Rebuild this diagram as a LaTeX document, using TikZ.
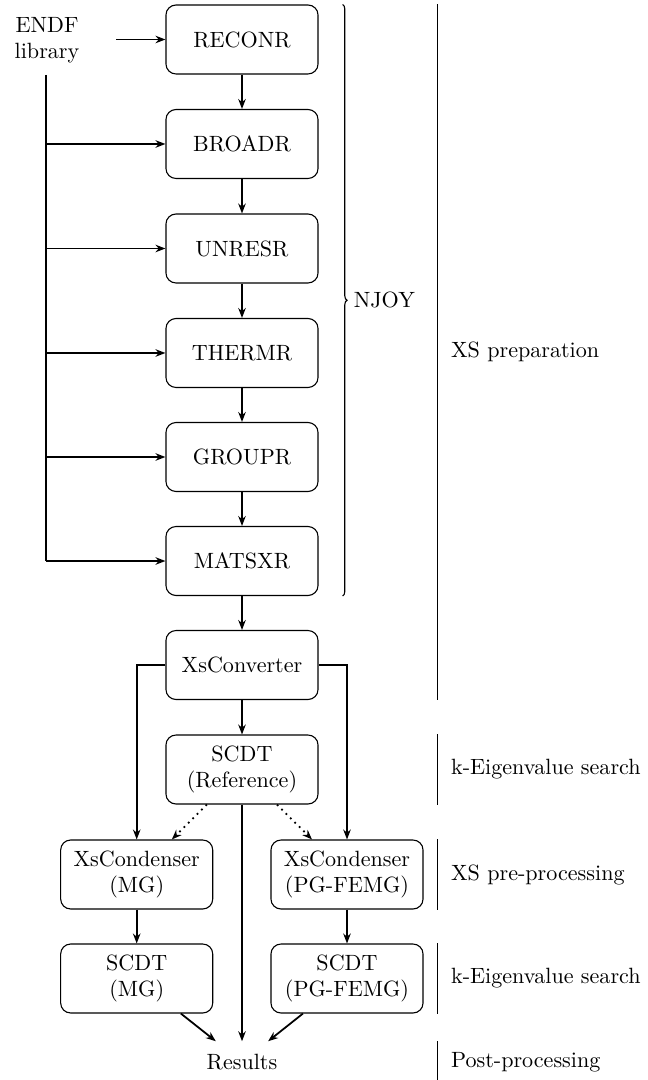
\documentclass[tikz,border=0pt]{standalone}
\usetikzlibrary{arrows.meta,decorations.pathreplacing,calc}
\begin{document}
\begin{tikzpicture}[x=0.4525pt,y=-0.4525pt,
  box/.style={draw, rounded corners=4.5pt, minimum width=68.8pt, minimum height=31.2pt, align=center, line width=0.5pt},
  arr/.style={-{Stealth[length=4.5pt,width=3.4pt]}, line width=0.8pt},
  dotarr/.style={arr, dotted},
  bus/.style={line width=1.2pt},
  sepline/.style={line width=0.5pt},
  lab/.style={anchor=west}]
\useasboundingbox (0,0) rectangle (648,1080);

% main column
\node[box] (reconr) at (242,39.5) {RECONR};
\node[box] (broadr) at (242,144) {BROADR};
\node[box] (unresr) at (242,248.5) {UNRESR};
\node[box] (thermr) at (242,353) {THERMR};
\node[box] (groupr) at (242,457) {GROUPR};
\node[box] (matsxr) at (242,561) {MATSXR};
\node[box] (conv) at (242,665) {XsConverter};
\node[box] (ref) at (242,769.5) {SCDT\\(Reference)};
\node[box] (condmg) at (136.7,874.5) {XsCondenser\\(MG)};
\node[box] (condpg) at (347,874.5) {XsCondenser\\(PG-FEMG)};
\node[box] (scdtmg) at (136.7,978.5) {SCDT\\(MG)};
\node[box] (scdtpg) at (347,978.5) {SCDT\\(PG-FEMG)};
\node[minimum height=18.4pt] (results) at (242,1062) {Results};

% ENDF input
\node[align=center] (endf) at (47,40) {ENDF\\library};
\coordinate (endfout) at (116,39.5);
\draw[arr] (endfout) -- (reconr);
\coordinate (bustop) at (46,75);
\draw[bus] (bustop) -- (bustop |- matsxr);
\foreach \n in {broadr,unresr,thermr,groupr,matsxr}
  \draw[arr] (bustop |- \n) -- (\n);

% chain
\foreach \a/\b in {reconr/broadr,broadr/unresr,unresr/thermr,thermr/groupr,groupr/matsxr,matsxr/conv,conv/ref}
  \draw[arr] (\a) -- (\b);
\draw[arr] (conv) -| (condmg);
\draw[arr] (conv) -| (condpg);
\draw[dotarr] (ref) -- (condmg);
\draw[dotarr] (ref) -- (condpg);
\draw[arr] (condmg) -- (scdtmg);
\draw[arr] (condpg) -- (scdtpg);
\draw[arr] (ref) -- (results);
\draw[arr] (scdtmg) -- (results);
\draw[arr] (scdtpg) -- (results);

% NJOY brace
\coordinate (brtop) at ($(reconr.north east)+(24,0)$);
\coordinate (brbot) at ($(matsxr.south east)+(24,0)$);
\draw[decorate, decoration={brace, amplitude=2pt}, line width=0.5pt] (brtop) -- (brbot);
\node[lab] (njoy) at (346,300) {NJOY};

% phase separators
\coordinate (sepx) at (437.3,0);
\draw[sepline] (sepx |- reconr.north) -- (sepx |- conv.south);
\node[lab] (lprep) at (443.3,352) {XS preparation};
\draw[sepline] (sepx |- ref.north) -- (sepx |- ref.south);
\node[lab] (lkeig1) at (443.3,769.5) {k-Eigenvalue search};
\draw[sepline] (sepx |- condpg.north) -- (sepx |- condpg.south);
\node[lab] (lpre) at (443.3,874.5) {XS pre-processing};
\draw[sepline] (sepx |- scdtpg.north) -- (sepx |- scdtpg.south);
\node[lab] (lkeig2) at (443.3,978.5) {k-Eigenvalue search};
\coordinate (sepbot) at (437.3,1080);
\draw[sepline] (sepx |- results.north) -- (sepbot);
\node[lab] (lpost) at (443.3,1062) {Post-processing};
\end{tikzpicture}
\end{document}
